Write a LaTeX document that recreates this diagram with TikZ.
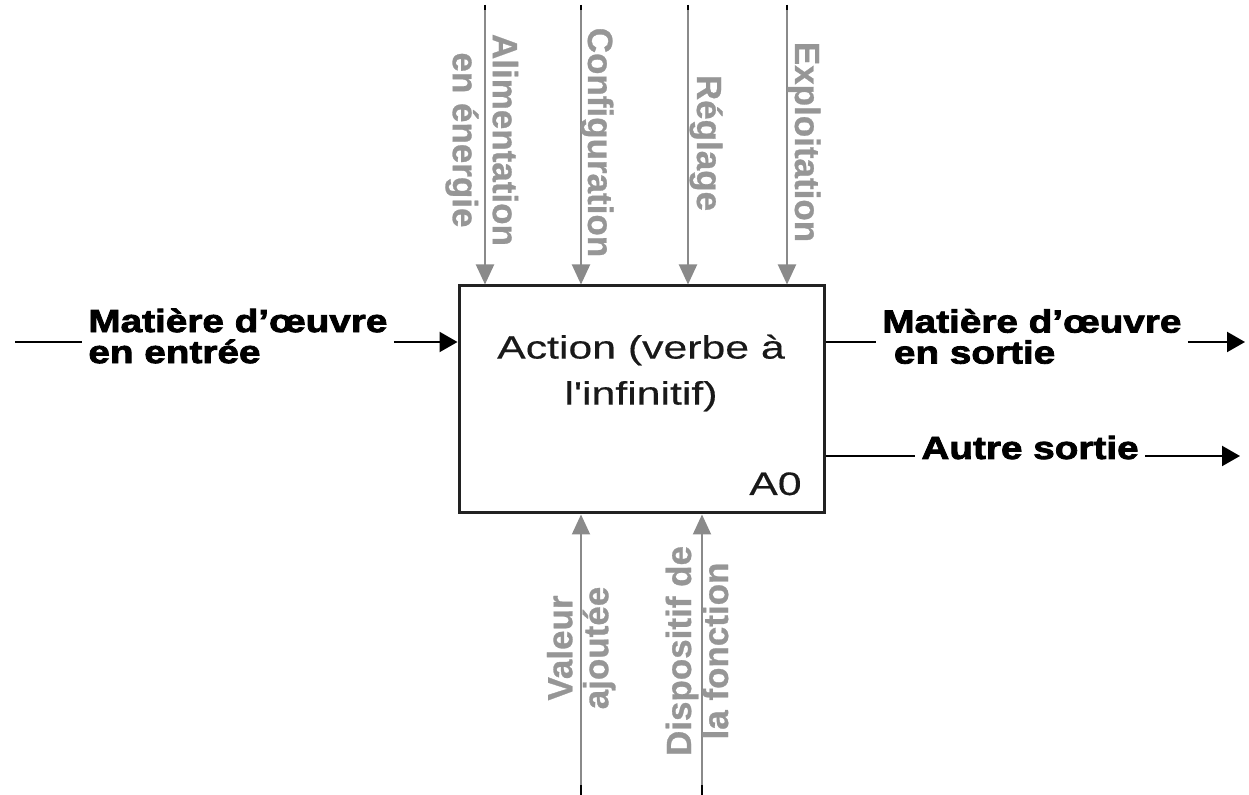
\documentclass[tikz,border=0pt]{standalone}
\usepackage{fontspec}
\setmainfont{Liberation Sans}
% wide, heavy face for the flow labels and a wide regular face for the box text
\newfontfamily\flowfont[FakeStretch=1.21,FakeBold=2.5]{Liberation Sans}
\newfontfamily\boxfont[FakeStretch=1.32,FakeBold=0.4]{Liberation Sans}
\newfontfamily\sidefont[FakeBold=0.8]{Liberation Sans}
\usetikzlibrary{arrows.meta}
\definecolor{linegray}{HTML}{8A8A8A}
\definecolor{textgray}{HTML}{969696}
\definecolor{boxline}{HTML}{222222}
\tikzset{
  fnbox/.style={draw=boxline, line width=1.5pt, minimum width=182.5pt,
    minimum height=113.5pt, inner sep=0pt},
  boxtext/.style={font=\boxfont\fontsize{16.2}{23}\selectfont, text=black!90,
    align=center, inner sep=0pt},
  flowlbl/.style={font=\flowfont\bfseries\fontsize{16}{15.5}\selectfont,
    align=left, inner xsep=3pt, inner ysep=0pt},
  sidelbl/.style={font=\sidefont\bfseries\fontsize{17.5}{20}\selectfont, text=textgray,
    align=center, inner sep=0pt},
  ctl/.style={draw=linegray, line width=1pt, -{Triangle[length=10pt,width=9pt]}},
  flow/.style={draw=black, line width=1.1pt},
  flowarr/.style={flow, -{Triangle[length=9pt,width=10pt]}},
  endstub/.style={draw=black, line width=1.1pt}
}
\begin{document}
\begin{tikzpicture}[x=0.5pt, y=-0.5pt]
\useasboundingbox (0,0) rectangle (1249,795);

% function box
\node[fnbox] (fn) at (641.5,399.5) {};
\node[boxtext] (act) at (641,373) {Action (verbe à\\l'infinitif)};
\node[boxtext, anchor=base east] (code) at (802,495) {A0};

% controls entering from the top
\coordinate (t1) at (485,5);
\coordinate (t2) at (581,5);
\coordinate (t3) at (688,5);
\coordinate (t4) at (787,5);
\foreach \c in {t1,t2,t3,t4} {
  \draw[ctl] (\c) -- (\c |- fn.north);
  \draw[endstub] (\c) -- ++(0,5);
}
\node[sidelbl, rotate=-90] (lalim) at (481.8,140) {Alimentation\\en énergie};
\node[sidelbl, rotate=-90, anchor=base] (lconf) at (588,142.5) {Configuration};
\node[sidelbl, rotate=-90, anchor=base] (lreg) at (697,143) {Réglage};
\node[sidelbl, rotate=-90, anchor=base] (lexp) at (795,142) {Exploitation};

% mechanisms entering from the bottom
\coordinate (b1) at (581,795);
\coordinate (b2) at (702,795);
\foreach \c in {b1,b2} {
  \draw[ctl] (\c) -- (\c |- fn.south);
  \draw[endstub] (\c) -- ++(0,-10);
}
\node[sidelbl, rotate=90, font=\sidefont\bfseries\fontsize{17.5}{18}\selectfont] (lval) at (581.2,648) {Valeur\\ajoutée};
\node[sidelbl, rotate=90, font=\sidefont\bfseries\fontsize{17.5}{18.5}\selectfont] (ldis) at (697,651) {Dispositif de\\la fonction};

% input
\coordinate (in0) at (15,342);
\node[flowlbl, anchor=west] (lin) at (82,336) {Matière d’œuvre\\en entrée};
\draw[flow] (in0) -- (in0 -| lin.west);
\draw[flowarr] (in0 -| lin.east) -- (in0 -| fn.west);

% outputs
\coordinate (o1) at (1245,342);
\node[flowlbl, anchor=west] (lout) at (876,336.5) {Matière d’œuvre\\\hspace*{0.36em}en sortie};
\draw[flow] (fn.east |- o1) -- (o1 -| lout.west);
\draw[flowarr] (o1 -| lout.east) -- (o1);

\coordinate (o2) at (1240,456);
\node[flowlbl, anchor=base west] (lalt) at (915,459) {Autre sortie};
\draw[flow] (fn.east |- o2) -- (o2 -| lalt.west);
\draw[flowarr] (o2 -| lalt.east) -- (o2);
\end{tikzpicture}
\end{document}
